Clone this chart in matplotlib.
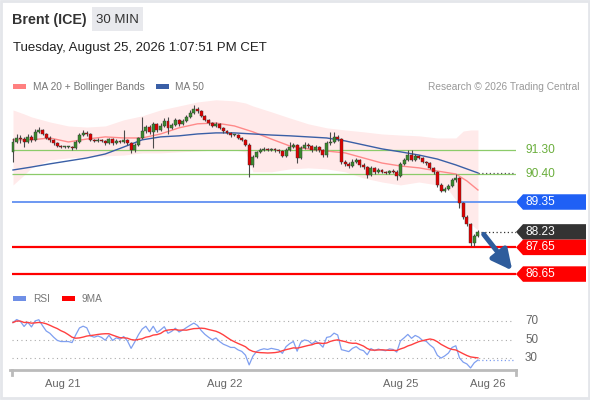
import numpy as np
import pandas as pd
import matplotlib
matplotlib.use("Agg")
from matplotlib import pyplot as plt
from matplotlib.patches import Rectangle, Polygon

plt.rcParams['font.family'] = ['Liberation Sans', 'DejaVu Sans']

# ---- data (30 min candles) ----
first_open = 91.23
closes = [91.60, 91.75, 91.71, 91.60, 91.79, 91.68, 91.98, 92.05, 91.90, 91.75,
          91.68, 91.56, 91.45, 91.41, 91.41, 91.41, 91.38, 91.60, 91.86, 91.94,
          91.90, 91.68, 91.64, 91.68, 91.64, 91.56, 91.71, 91.56, 91.64, 91.60,
          91.68, 91.56, 91.30, 91.49, 91.75, 92.01, 92.16, 91.98, 92.28, 92.05,
          92.20, 92.39, 92.13, 92.24, 92.43, 92.28, 92.39, 92.54, 92.69, 92.84,
          92.76, 92.58, 92.43, 92.31, 92.20, 92.28, 92.13, 92.01, 91.94, 91.86,
          91.86, 91.75, 91.68, 91.49, 90.74, 91.04, 91.23, 91.30, 91.34, 91.30,
          91.34, 91.30, 91.26, 91.08, 91.30, 91.41, 91.49, 91.00, 91.38, 91.49,
          91.45, 91.30, 91.41, 91.30, 91.11, 91.56, 91.60, 91.79, 91.71, 90.85,
          90.78, 90.70, 90.85, 90.93, 90.74, 90.66, 90.36, 90.63, 90.48, 90.55,
          90.48, 90.44, 90.51, 90.48, 90.33, 90.78, 90.93, 91.11, 90.93, 91.08,
          91.00, 90.85, 90.81, 90.63, 90.48, 89.99, 89.76, 89.84, 89.95, 90.18,
          90.25, 89.31, 88.79, 88.53, 87.81, 88.08, 88.23]
highs = [91.75, 91.90, 91.85, 91.78, 91.90, 91.86, 92.10, 92.16, 92.09, 91.95,
         91.82, 91.72, 91.60, 91.48, 91.44, 91.45, 91.46, 91.66, 91.92, 92.05,
         92.00, 91.94, 91.72, 91.74, 91.72, 91.68, 91.76, 91.75, 91.70, 91.68,
         92.05, 91.72, 91.60, 91.55, 91.80, 92.54, 92.25, 92.22, 92.35, 92.32,
         92.30, 92.48, 92.52, 92.30, 92.50, 92.46, 92.45, 92.60, 92.78, 92.99,
         92.90, 92.80, 92.62, 92.47, 92.36, 92.33, 92.32, 92.16, 92.05, 91.98,
         91.90, 91.90, 91.80, 91.72, 91.55, 91.10, 91.28, 91.38, 91.40, 91.38,
         91.38, 91.37, 91.33, 91.30, 91.36, 91.60, 91.55, 91.52, 91.45, 91.58,
         91.56, 91.50, 91.48, 91.46, 91.35, 91.62, 91.98, 91.98, 91.85, 91.75,
         90.92, 90.85, 90.95, 91.00, 90.98, 90.80, 90.70, 90.70, 90.68, 90.62,
         90.60, 90.52, 90.56, 90.58, 90.55, 90.85, 91.00, 91.30, 91.30, 91.15,
         91.12, 91.04, 90.90, 90.85, 90.68, 90.52, 90.05, 89.92, 90.02, 90.25,
         90.40, 90.30, 89.35, 88.85, 88.58, 88.14, 88.30]
lows = [90.85, 91.55, 91.55, 91.40, 91.55, 91.60, 91.62, 91.94, 91.86, 91.70,
        91.60, 91.50, 91.41, 91.37, 91.38, 91.36, 91.30, 91.34, 91.56, 91.82,
        91.84, 91.62, 91.58, 91.60, 91.58, 91.50, 91.52, 91.50, 91.52, 91.55,
        91.56, 91.50, 91.19, 91.22, 91.45, 91.70, 91.95, 91.90, 91.38, 91.98,
        92.00, 92.15, 91.90, 92.08, 92.20, 92.20, 92.24, 92.33, 92.50, 92.64,
        92.70, 92.52, 92.38, 92.25, 92.15, 92.15, 92.08, 91.95, 91.90, 91.80,
        91.82, 91.70, 91.62, 91.44, 90.29, 90.66, 91.00, 91.20, 91.27, 91.26,
        91.26, 91.24, 91.20, 91.02, 91.04, 91.25, 91.36, 90.81, 90.95, 91.32,
        91.38, 91.22, 91.25, 91.24, 91.04, 91.05, 91.50, 91.55, 91.62, 90.78,
        90.70, 90.62, 90.65, 90.80, 90.66, 90.60, 90.25, 90.32, 90.40, 90.44,
        90.42, 90.40, 90.40, 90.42, 90.18, 90.28, 90.72, 90.88, 90.88, 90.88,
        90.95, 90.80, 90.75, 90.58, 90.40, 89.90, 89.73, 89.73, 89.80, 89.90,
        90.10, 89.13, 88.70, 88.45, 87.70, 87.70, 88.02]

# indicator lines, sampled at candle indices
ma20_idx = [0, 5, 10, 15, 20, 25, 30, 35, 40, 45, 50, 55, 60, 65, 70, 75, 80,
            85, 90, 95, 100, 105, 110, 115, 120, 123, 126]
ma20 = [91.68, 91.68, 91.75, 91.60, 91.71, 91.79, 91.75, 91.75, 91.90, 92.13,
        92.28, 92.31, 92.20, 91.98, 91.71, 91.45, 91.34, 91.26, 91.19, 91.00,
        90.81, 90.70, 90.63, 90.51, 90.40, 90.14, 89.80]
ma50_idx = [0, 5, 10, 15, 20, 25, 30, 35, 40, 45, 50, 55, 60, 65, 70, 75, 80,
            85, 90, 95, 100, 105, 110, 115, 120, 126]
ma50 = [90.55, 90.66, 90.78, 90.89, 91.00, 91.15, 91.41, 91.68, 91.79, 91.83,
        91.90, 91.94, 91.94, 91.90, 91.86, 91.83, 91.79, 91.75, 91.64, 91.49,
        91.34, 91.23, 91.11, 90.96, 90.74, 90.44]
band_idx = [0, 3, 5, 10, 15, 20, 25, 30, 35, 40, 45, 50, 55, 60, 63, 65, 70, 75,
            80, 85, 90, 95, 100, 105, 110, 115, 118, 120, 122, 124, 126]
band_up = [92.80, 92.65, 92.54, 92.35, 92.20, 92.16, 92.20, 92.43, 92.58, 92.80,
           92.95, 93.10, 93.18, 93.14, 93.06, 92.95, 92.73, 92.50, 92.28, 92.13,
           92.05, 91.98, 91.90, 91.86, 91.83, 91.75, 91.75, 91.75, 92.01, 92.05,
           92.05]
band_lo = [89.99, 90.36, 90.63, 90.93, 91.00, 91.04, 91.08, 91.11, 91.19, 91.19,
           91.23, 91.26, 91.30, 91.30, 91.23, 90.48, 90.48, 90.59, 90.63, 90.59,
           90.48, 90.25, 90.10, 89.99, 90.10, 89.99, 89.80, 89.43, 88.98, 88.53,
           88.30]

support_res = [91.30, 90.40]
pivot = 89.35
targets = [87.65, 86.65]
last_price = closes[-1]

tick_pos = [13.5, 57.5, 105.0, 128.7]
tick_lab = ['Aug 21', 'Aug 22', 'Aug 25', 'Aug 26']
rsi_levels = [70, 50, 30]

# ---- helpers ----
def px2i(px):
    '''pixel column -> candle index'''
    return (px - 13) / 3.69

opens = [first_open] + closes[:-1]
n = len(closes)
idx = np.arange(n)

# Wilder RSI (14) from closes
diff = np.diff(np.array([first_open] + closes))
ag, al = 0.045, 0.034
rsi = []
for d in diff:
    ag = (ag * 13 + max(d, 0)) / 14
    al = (al * 13 + max(-d, 0)) / 14
    rsi.append(100 - 100 / (1 + ag / al))
rsi = np.array(rsi)
rsi_ma = pd.Series(rsi).rolling(9, min_periods=1).mean().values

# ---- figure ----
fig = plt.figure(figsize=(5.9, 4.0), dpi=100)
fig.patch.set_facecolor('white')

deco = fig.add_axes([0, 0, 1, 1])
deco.set_xlim(0, 590)
deco.set_ylim(400, 0)
deco.axis('off')
deco.add_patch(Rectangle((1, 1), 588, 397, fill=False, ec='#e4e6ea', lw=2))

deco.text(12, 20, 'Brent (ICE)', fontsize=10.3, fontweight='bold', color='#333333', va='center')
deco.add_patch(Rectangle((92, 7), 51, 24, fc='#e8e9ed', ec='none'))
deco.text(117.5, 20, '30 MIN', fontsize=9.5, color='#333333', va='center', ha='center')
deco.text(13, 48, 'Tuesday, August 25, 2026 1:07:51 PM CET', fontsize=9.5, color='#222222', va='center')

deco.add_patch(Rectangle((13, 84), 13, 5, fc='#ff8080', ec='none'))
deco.text(33, 86.5, 'MA 20 + Bollinger Bands', fontsize=7.3, color='#777777', va='center')
deco.add_patch(Rectangle((156, 84), 13, 5, fc='#3a5fa6', ec='none'))
deco.text(175, 86.5, 'MA 50', fontsize=7.3, color='#777777', va='center')
deco.text(580, 86.5, 'Research \u00a9 2026 Trading Central', fontsize=7.3, color='#999999',
          va='center', ha='right')

deco.add_patch(Rectangle((13, 296), 13, 5, fc='#6f8fe6', ec='none'))
deco.text(33, 298.5, 'RSI', fontsize=7.3, color='#777777', va='center')
deco.add_patch(Rectangle((62, 296), 13, 5, fc='#ff0000', ec='none'))
deco.text(82, 298.5, '9MA', fontsize=7.3, color='#777777', va='center')

# ---- price panel ----
ax = fig.add_axes([10 / 590, 1 - 285 / 400, 506 / 590, 190 / 400])
ax.set_xlim(px2i(10), px2i(516))
ax.set_ylim(86.24, 93.36)
ax.axis('off')
ax.patch.set_alpha(0)

ax.fill_between(band_idx, band_lo, band_up, color='#ffdcdc', alpha=0.6, lw=0, zorder=1)
ax.plot(ma20_idx, ma20, color='#ff8a8a', lw=1.0, zorder=2)
ax.plot(ma50_idx, ma50, color='#3a5fa6', lw=1.0, zorder=2)
ax.hlines(ma50[-1], px2i(478), px2i(513), colors='#555555', lw=0.9, linestyles=(0, (1, 2)), zorder=3)

x0, x1 = px2i(12), px2i(516)
for lv in support_res:
    ax.hlines(lv, x0, x1, colors='#8ccb6a', lw=0.9, zorder=1.5)
ax.hlines(pivot, x0, x1, colors='#6d98f2', lw=1.4, zorder=1.5)
for lv in targets:
    ax.hlines(lv, x0, x1, colors='#ff0000', lw=1.6, zorder=1.5)
ax.hlines(last_price, n - 0.2, x1, colors='#333333', lw=0.9, linestyles=(0, (1, 2)), zorder=3)

# candles
for i in range(n):
    o, c = opens[i], closes[i]
    col = '#3b8a2e' if c >= o else '#e00000'
    ax.vlines(i, lows[i], highs[i], colors='#4a4a4a', lw=0.8, zorder=4)
    lo = min(o, c)
    h = max(abs(c - o), 0.03)
    ax.add_patch(Rectangle((i - 0.4, lo), 0.8, h, fc=col, ec='#333333', lw=0.3, zorder=5))

# arrow
ax.annotate('', xy=(px2i(514), 86.70), xytext=(px2i(482), 88.22),
            arrowprops=dict(arrowstyle='-|>', color='#2e5c9c', lw=3.6, mutation_scale=30),
            annotation_clip=False, zorder=6)

# right side labels
bh = 0.29
xa, xb, xc = px2i(516), px2i(523), px2i(586)
for lv in support_res:
    ax.text(px2i(525), lv, f'{lv:.2f}', color='#6aae3c', fontsize=8.6, va='center', clip_on=False)
for lv, colr in [(pivot, '#1f60f5'), (last_price, '#333333')] + [(t, '#ff0000') for t in targets]:
    ax.add_patch(Polygon([(xa, lv), (xb, lv + bh), (xc, lv + bh), (xc, lv - bh), (xb, lv - bh)],
                         closed=True, fc=colr, ec='none', clip_on=False, zorder=6))
    ax.text(px2i(525), lv, f'{lv:.2f}', color='white', fontsize=8.6, va='center',
            clip_on=False, zorder=7)

# ---- RSI panel ----
ax2 = fig.add_axes([10 / 590, 1 - 370 / 400, 506 / 590, 65 / 400])
ax2.set_xlim(px2i(10), px2i(516))
ax2.set_ylim(17.03, 87.3)
ax2.patch.set_alpha(0)
for s in ['top', 'left', 'right']:
    ax2.spines[s].set_visible(False)
ax2.spines['bottom'].set_color('#bbbbbb')
ax2.spines['bottom'].set_linewidth(2)
ax2.set_yticks([])
ax2.set_xticks(tick_pos)
ax2.set_xticklabels(tick_lab, fontsize=8, color='#666666')
ax2.tick_params(axis='x', length=0, pad=6.5)

for lv in rsi_levels:
    ax2.hlines(lv, px2i(12), px2i(513), colors='#aaaaaa', lw=0.8, linestyles=(0, (1, 3)))
    ax2.text(px2i(525), lv, str(lv), fontsize=8.4, color='#666666', va='center', clip_on=False)
ax2.plot(idx, rsi, color='#7f9ff0', lw=0.9, zorder=3)
ax2.plot(idx, rsi_ma, color='#ff4040', lw=1.0, zorder=4)
ax2.hlines(rsi[-1], n - 1, px2i(513), colors='#7f9ff0', lw=0.9, linestyles=(0, (1, 2)))

# end ticks on the time axis
deco.plot([12, 12], [370, 375], color='#bbbbbb', lw=2)
deco.plot([516, 516], [370, 375], color='#bbbbbb', lw=2)

fig.savefig('out.png', dpi=100)
